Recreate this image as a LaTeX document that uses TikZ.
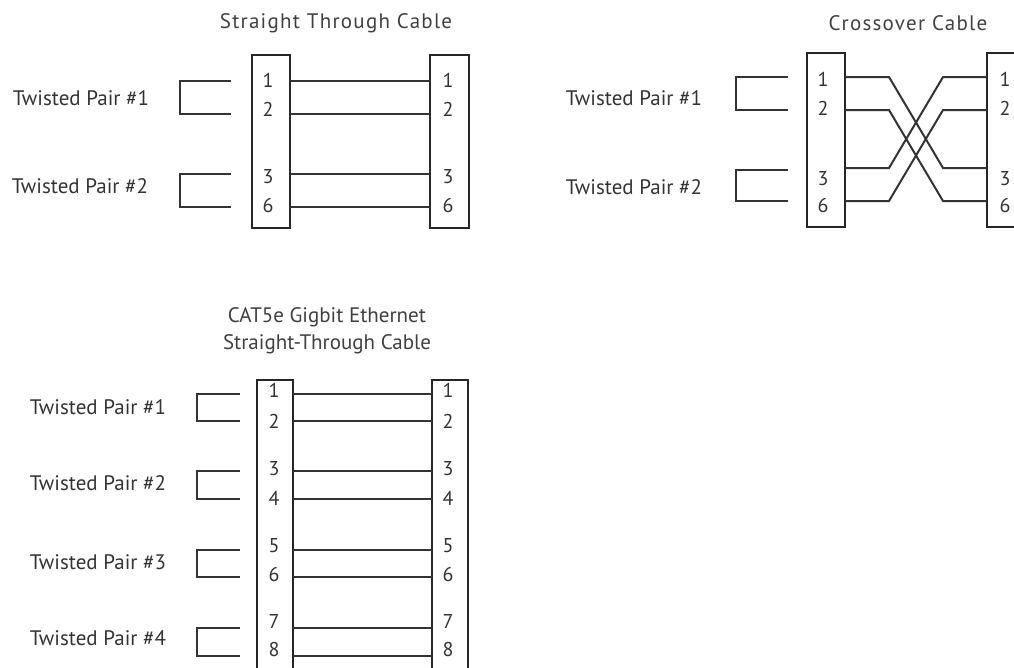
\documentclass[tikz,border=0pt]{standalone}
\usepackage{fontspec}
\setmainfont{PT Sans}
\begin{document}
\begin{tikzpicture}[x=1pt,y=-1pt,
  wire/.style={draw=black!80, line width=2pt},
  conn/.style={draw=black!85, line width=2.2pt, fill=white, rectangle, inner sep=0pt, outer sep=0pt, anchor=north west},
  lbl/.style={font=\fontsize{21}{24}\selectfont, text=black!80, inner sep=0pt},
  pinnum/.style={font=\fontsize{20}{22}\selectfont, text=black!80, inner sep=0pt},
  ttl/.style={font=\fontsize{21}{27}\selectfont, text=black!75, inner sep=0pt, align=center}]
\useasboundingbox (0,0) rectangle (1014,667);
\clip (0,0) rectangle (1014,667);

% ===== Straight Through Cable =====
\node[ttl, font=\fontsize{21}{27}\selectfont\addfontfeature{LetterSpace=6}] (t1) at (336,23) {Straight Through Cable};
\node[conn, minimum width=38pt, minimum height=173pt] (sA) at (252,55) {};
\node[conn, minimum width=39pt, minimum height=173pt] (sB) at (430,55) {};
\foreach \n/\y in {1/81,2/114,3/174,6/207}{
  \coordinate (sA\n) at (290,\y);
  \coordinate (sB\n) at (430,\y);
  \draw[wire] (sA\n) -- (sB\n);
}
\foreach \n/\y in {1/80,2/109,3/177,6/205}{
  \node[pinnum] (sAn\n) at (268,\y) {\n};
  \node[pinnum] (sBn\n) at (448,\y) {\n};
}
\coordinate (sP1) at (231,81); \coordinate (sP1b) at (231,114);
\coordinate (sP2) at (231,174); \coordinate (sP2b) at (231,207);
\draw[wire] (sP1) -- (180,81) -- (180,114) -- (sP1b);
\draw[wire] (sP2) -- (180,174) -- (180,207) -- (sP2b);
\node[lbl] (sL1) at (81,98) {Twisted Pair \#1};
\node[lbl] (sL2) at (80,186) {Twisted Pair \#2};

% ===== Crossover Cable =====
\node[ttl, font=\fontsize{21}{27}\selectfont\addfontfeature{LetterSpace=6}] (t2) at (908,23) {Crossover Cable};
\node[conn, minimum width=38pt, minimum height=174pt] (cA) at (807,53) {};
\node[conn, minimum width=39pt, minimum height=174pt] (cB) at (987,53) {};
\foreach \n/\y in {1/77,2/110,3/168,6/201}{
  \coordinate (cA\n) at (845,\y);
  \coordinate (cB\n) at (987,\y);
}
\draw[wire] (cA1) -- (889,77) -- (943,168) -- (cB3);
\draw[wire] (cA2) -- (889,110) -- (943,201) -- (cB6);
\draw[wire] (cA3) -- (889,168) -- (943,77) -- (cB1);
\draw[wire] (cA6) -- (889,201) -- (943,110) -- (cB2);
\foreach \n/\y in {1/79,2/108,3/179,6/205}{
  \node[pinnum] (cAn\n) at (823,\y) {\n};
  \node[pinnum] (cBn\n) at (1005,\y) {\n};
}
\coordinate (cP1) at (788,77); \coordinate (cP1b) at (788,110);
\coordinate (cP2) at (788,170); \coordinate (cP2b) at (788,201);
\draw[wire] (cP1) -- (736,77) -- (736,110) -- (cP1b);
\draw[wire] (cP2) -- (736,170) -- (736,201) -- (cP2b);
\node[lbl] (cL1) at (634,98) {Twisted Pair \#1};
\node[lbl] (cL2) at (634,187) {Twisted Pair \#2};

% ===== CAT5e Gigabit Straight-Through =====
\node[ttl] (t3) at (327,331) {CAT5e Gigbit Ethernet\\Straight-Through Cable};
\node[conn, minimum width=36pt, minimum height=320pt] (gA) at (257,380) {};
\node[conn, minimum width=36pt, minimum height=320pt] (gB) at (432,380) {};
\foreach \n/\y in {1/394,2/421,3/471,4/499,5/550,6/577,7/628,8/656}{
  \coordinate (gA\n) at (293,\y);
  \coordinate (gB\n) at (432,\y);
  \draw[wire] (gA\n) -- (gB\n);
}
\foreach \n/\y in {1/390,2/421,3/469,4/498,5/546,6/574,7/621,8/649}{
  \node[pinnum] (gAn\n) at (274,\y) {\n};
  \node[pinnum] (gBn\n) at (448,\y) {\n};
}
\foreach \i/\ya/\yb/\yl in {1/394/421/407,2/471/499/483,3/550/577/562,4/628/656/638}{
  \coordinate (gP\i) at (240,\ya);
  \coordinate (gP\i b) at (240,\yb);
  \draw[wire] (gP\i) -- (197,\ya) -- (197,\yb) -- (gP\i b);
  \node[lbl] (gL\i) at (98,\yl) {Twisted Pair \#\i};
}
\end{tikzpicture}
\end{document}
